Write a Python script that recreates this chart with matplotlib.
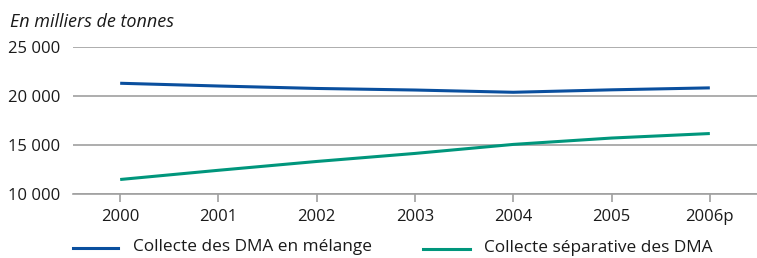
import matplotlib
matplotlib.use("Agg")
import matplotlib.pyplot as plt
from matplotlib.lines import Line2D

years = ["2000", "2001", "2002", "2003", "2004", "2005", "2006p"]
melange = [21300, 21020, 20770, 20610, 20380, 20630, 20830]
separative = [11480, 12420, 13320, 14140, 15060, 15710, 16170]
yticks = [10000, 15000, 20000, 25000]
ytick_labels = ["10 000", "15 000", "20 000", "25 000"]

blue = "#0a4f9e"
green = "#00967c"
grid = "#a0a0a0"

plt.rcParams['font.family'] = ['Open Sans', 'DejaVu Sans']

W, H = 757, 258
fig = plt.figure(figsize=(W/100, H/100), dpi=100)
ax = fig.add_axes([73/W, 1-194/H, (757-73)/W, (194-47)/H])

x = list(range(len(years)))
ax.plot(x, melange, color=blue, lw=2.2, solid_capstyle='butt')
ax.plot(x, separative, color=green, lw=2.2, solid_capstyle='butt')

ax.set_ylim(10000, 25000)
ax.set_xlim(-0.48, 6.48)
ax.set_yticks(yticks)
ax.set_yticklabels(ytick_labels, fontsize=12, color="#1a1a1a")
ax.set_xticks(x)
ax.set_xticklabels(years, fontsize=12, color="#1a1a1a")
ax.yaxis.grid(True, color=grid, lw=1.2)
ax.set_axisbelow(True)
for s in ['top', 'right', 'left']:
    ax.spines[s].set_visible(False)
ax.spines['bottom'].set_color(grid)
ax.spines['bottom'].set_linewidth(1.2)
ax.tick_params(axis='y', length=0, pad=9)
ax.tick_params(axis='x', length=6, width=1.2, color=grid, pad=5, direction='out')

fig.text(10/W, 1-22/H, "En milliers de tonnes", fontsize=13, style='italic',
         color="#1a1a1a", va='center', ha='left')

# legend
fig.add_artist(Line2D([73/W, 118/W], [1-248/H, 1-248/H], color=blue, lw=2.2, transform=fig.transFigure))
fig.text(133/W, 1-247/H, "Collecte des DMA en mélange", fontsize=12.4, va='center', color="#1a1a1a")
fig.add_artist(Line2D([423/W, 470/W], [1-249/H, 1-249/H], color=green, lw=2.2, transform=fig.transFigure))
fig.text(484/W, 1-248/H, "Collecte séparative des DMA", fontsize=12.4, va='center', color="#1a1a1a")

fig.savefig("out.png", dpi=100)
